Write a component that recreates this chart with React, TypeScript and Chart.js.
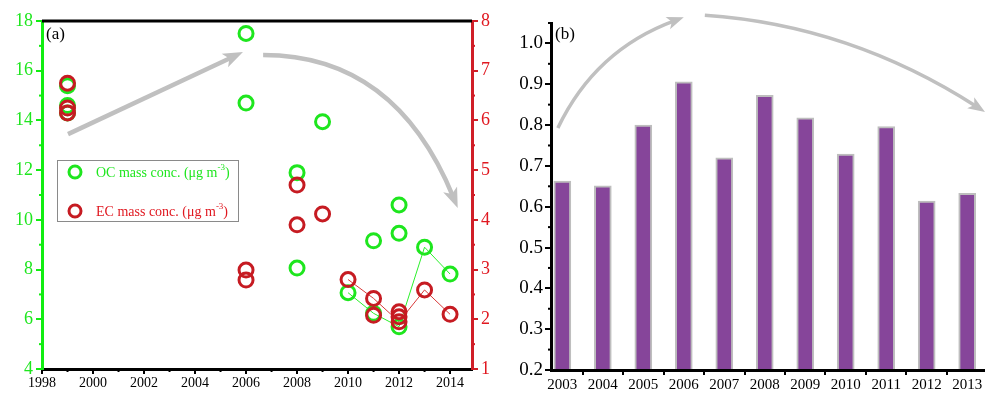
import React, { useEffect, useRef } from "react";
import { Chart, registerables } from "chart.js";

Chart.register(...registerables);

const SERIF = "'Liberation Serif', 'Times New Roman', serif";
Chart.defaults.font.family = SERIF;

// ---------- Panel (a) data ----------
const ocYears = [1999, 1999, 1999, 2006, 2006, 2008, 2008, 2009, 2010, 2011, 2011, 2012, 2012, 2012, 2013, 2014];
const ocValues = [15.4, 14.6, 14.3, 17.5, 14.7, 11.9, 8.06, 13.95, 7.07, 9.16, 6.24, 10.6, 9.46, 5.7, 8.9, 7.82];
const ecYears = [1999, 1999, 1999, 2006, 2006, 2008, 2008, 2009, 2010, 2011, 2011, 2012, 2012, 2012, 2013, 2014];
const ecValues = [6.75, 6.25, 6.15, 2.99, 2.79, 4.7, 3.9, 4.12, 2.8, 2.42, 2.08, 2.15, 2.05, 1.95, 2.59, 2.1];
const trendYears = [2010, 2011, 2012, 2013, 2014];
const ocTrend = [7.07, 6.24, 5.7, 8.9, 7.82];
const ecTrend = [2.8, 2.42, 1.95, 2.59, 2.1];
const aXTicks = [1998, 2000, 2002, 2004, 2006, 2008, 2010, 2012, 2014];
const aYTicks = [4, 6, 8, 10, 12, 14, 16, 18];
const aY2Ticks = [1, 2, 3, 4, 5, 6, 7, 8];
const ocLabel = "OC mass conc. (\u03bcg m";
const ecLabel = "EC mass conc. (\u03bcg m";

// ---------- Panel (b) data ----------
const barYears = [2003, 2004, 2005, 2006, 2007, 2008, 2009, 2010, 2011, 2012, 2013];
const barValues = [0.663, 0.651, 0.8, 0.906, 0.72, 0.873, 0.818, 0.729, 0.796, 0.614, 0.633];
const bYTicks = [0.2, 0.3, 0.4, 0.5, 0.6, 0.7, 0.8, 0.9, 1.0];

// arrows in data coordinates: [x, y]
const arrowsA = [
  { from: [1999.02, 13.45], ctrl: null, to: [2005.88, 16.75] },
  { from: [2006.67, 16.63], ctrl: [2011.84, 16.63], to: [2014.3, 10.48] },
];
const arrowsB = [
  { from: [2002.89, 0.793], ctrl: [2003.81, 0.984], to: [2006.0, 1.064] },
  { from: [2006.52, 1.069], ctrl: [2010.1, 1.045], to: [2013.44, 0.832] },
];

const GREEN = "#1EE61E";
const GREEN_AXIS = "#11EE11";
const RED = "#C61B22";
const RED_AXIS = "#D01E28";
const RED_LABEL = "#E01820";
const PURPLE = "#86459A";
const BAR_EDGE = "#BEBEBE";
const ARROW = "#C0C0C0";

const minorTicksPlugin = {
  id: "minorTicks",
  afterDraw(chart: any, _a: any, opts: any) {
    const ctx = chart.ctx;
    (opts.items || []).forEach((it: any) => {
      const s = chart.scales[it.axis];
      ctx.save();
      ctx.strokeStyle = it.color;
      ctx.lineWidth = 2;
      for (let v = it.start; v <= it.end + 1e-9; v += it.step) {
        const p = s.getPixelForValue(v);
        ctx.beginPath();
        if (it.side === "left") {
          ctx.moveTo(s.right, p);
          ctx.lineTo(s.right - it.len, p);
        } else if (it.side === "right") {
          ctx.moveTo(s.left, p);
          ctx.lineTo(s.left + it.len, p);
        } else {
          ctx.moveTo(p, s.top);
          ctx.lineTo(p, s.top + it.len);
        }
        ctx.stroke();
      }
      ctx.restore();
    });
  },
};

const arrowPlugin = {
  id: "arrows",
  afterDatasetsDraw(chart: any, _a: any, opts: any) {
    const ctx = chart.ctx;
    const xs = chart.scales.x;
    const ys = chart.scales[opts.yAxis || "y"];
    const px = (p: number[]) => [xs.getPixelForValue(p[0]), ys.getPixelForValue(p[1])];
    (opts.items || []).forEach((a: any) => {
      const p0 = px(a.from);
      const p2 = px(a.to);
      const p1 = a.ctrl ? px(a.ctrl) : [(p0[0] + p2[0]) / 2, (p0[1] + p2[1]) / 2];
      let dx = p2[0] - p1[0];
      let dy = p2[1] - p1[1];
      const d = Math.hypot(dx, dy) || 1;
      dx /= d;
      dy /= d;
      const hl = opts.headLen;
      const hw = opts.headWidth;
      const base = [p2[0] - dx * hl, p2[1] - dy * hl];
      ctx.save();
      ctx.strokeStyle = ARROW;
      ctx.fillStyle = ARROW;
      ctx.lineWidth = opts.lineWidth;
      ctx.lineCap = "butt";
      ctx.beginPath();
      ctx.moveTo(p0[0], p0[1]);
      const endLine = [p2[0] - dx * hl * 0.6, p2[1] - dy * hl * 0.6];
      ctx.quadraticCurveTo(p1[0], p1[1], endLine[0], endLine[1]);
      ctx.stroke();
      ctx.beginPath();
      ctx.moveTo(p2[0], p2[1]);
      ctx.lineTo(base[0] - dy * hw / 2, base[1] + dx * hw / 2);
      ctx.lineTo(base[0] + dx * hl * 0.25, base[1] + dy * hl * 0.25);
      ctx.lineTo(base[0] + dy * hw / 2, base[1] - dx * hw / 2);
      ctx.closePath();
      ctx.fill();
      ctx.restore();
    });
  },
};

const panelAPlugin = {
  id: "panelA",
  afterDraw(chart: any) {
    const ctx = chart.ctx;
    const ca = chart.chartArea;
    ctx.save();
    ctx.strokeStyle = "#000";
    ctx.lineWidth = 3;
    ctx.beginPath();
    ctx.moveTo(ca.left, ca.top);
    ctx.lineTo(ca.right, ca.top);
    ctx.stroke();
    ctx.fillStyle = "#000";
    ctx.font = `17px ${SERIF}`;
    ctx.textBaseline = "middle";
    ctx.fillText("(a)", ca.left + 4, 35);
    const bx = ca.left + 15;
    const by = 160;
    const bw = 181;
    const bh = 61;
    ctx.fillStyle = "#fff";
    ctx.fillRect(bx, by, bw, bh);
    ctx.strokeStyle = "#8A8A8A";
    ctx.lineWidth = 1;
    ctx.strokeRect(bx + 0.5, by + 0.5, bw, bh);
    const items = [
      { label: ocLabel, color: GREEN, text: GREEN, y: by + 12 },
      { label: ecLabel, color: RED, text: RED_LABEL, y: by + 51 },
    ];
    items.forEach((it) => {
      ctx.strokeStyle = it.color;
      ctx.lineWidth = 3;
      ctx.beginPath();
      ctx.arc(bx + 18, it.y, 6, 0, Math.PI * 2);
      ctx.stroke();
      ctx.fillStyle = it.text;
      ctx.textBaseline = "alphabetic";
      let x = bx + 39;
      const yb = it.y + 5;
      ctx.font = `14px ${SERIF}`;
      ctx.fillText(it.label, x, yb);
      x += ctx.measureText(it.label).width;
      ctx.font = `9px ${SERIF}`;
      ctx.fillText("-3", x, yb - 7);
      x += ctx.measureText("-3").width;
      ctx.font = `14px ${SERIF}`;
      ctx.fillText(")", x, yb);
    });
    ctx.restore();
  },
};

const panelBPlugin = {
  id: "panelB",
  afterDraw(chart: any) {
    const ctx = chart.ctx;
    const ca = chart.chartArea;
    ctx.save();
    ctx.fillStyle = "#000";
    ctx.font = `17px ${SERIF}`;
    ctx.textBaseline = "middle";
    ctx.fillText("(b)", ca.left + 4, 35);
    ctx.restore();
  },
};

const setTicks = (vals: number[]) => (s: any) => {
  s.ticks = vals.map((v) => ({ value: v }));
};

export default function App() {
  const refA = useRef<HTMLCanvasElement | null>(null);
  const refB = useRef<HTMLCanvasElement | null>(null);

  useEffect(() => {
    const chartA = new Chart(refA.current as HTMLCanvasElement, {
      type: "scatter",
      data: {
        datasets: [
          {
            label: "EC",
            data: ecYears.map((x, i) => ({ x, y: ecValues[i] })),
            yAxisID: "y2",
            pointRadius: 7,
            pointHoverRadius: 7,
            pointBorderWidth: 3,
            borderColor: RED,
            backgroundColor: "rgba(0,0,0,0)",
            showLine: false,
          },
          {
            label: "OC",
            data: ocYears.map((x, i) => ({ x, y: ocValues[i] })),
            yAxisID: "y",
            pointRadius: 7,
            pointHoverRadius: 7,
            pointBorderWidth: 3,
            borderColor: GREEN,
            backgroundColor: "rgba(0,0,0,0)",
            showLine: false,
          },
          {
            label: "EC trend",
            data: trendYears.map((x, i) => ({ x, y: ecTrend[i] })),
            yAxisID: "y2",
            pointRadius: 0,
            borderWidth: 1,
            borderColor: "#D83A3A",
            showLine: true,
          },
          {
            label: "OC trend",
            data: trendYears.map((x, i) => ({ x, y: ocTrend[i] })),
            yAxisID: "y",
            pointRadius: 0,
            borderWidth: 1,
            borderColor: "#2BF02B",
            showLine: true,
          },
        ],
      },
      options: {
        responsive: false,
        animation: false,
        devicePixelRatio: 1,
        layout: { padding: { top: 21, left: 0, right: 0, bottom: 0 } },
        plugins: {
          legend: { display: false },
          tooltip: { enabled: false },
          minorTicks: {
            items: [
              { axis: "x", side: "bottom", start: 1999, end: 2013, step: 2, len: 3, color: "#000" },
              { axis: "y", side: "left", start: 5, end: 17, step: 2, len: 3, color: GREEN_AXIS },
              { axis: "y2", side: "right", start: 1.5, end: 7.5, step: 1, len: 3, color: RED_AXIS },
            ],
          },
          arrows: { items: arrowsA, yAxis: "y", lineWidth: 4.5, headLen: 20, headWidth: 15 },
        } as any,
        scales: {
          x: {
            type: "linear",
            position: "bottom",
            min: 1998,
            max: 2014.86,
            afterBuildTicks: setTicks(aXTicks),
            afterFit: (s: any) => { s.height = 26; },
            ticks: { color: "#000", font: { family: SERIF, size: 14 }, padding: 1, maxRotation: 0, autoSkip: false, callback: (v: any) => String(v) },
            grid: { drawOnChartArea: false, drawTicks: true, tickLength: 5, color: "#000", lineWidth: 2 },
            border: { color: "#000", width: 3 },
          },
          y: {
            position: "left",
            min: 4,
            max: 18,
            afterBuildTicks: setTicks(aYTicks),
            afterFit: (s: any) => { s.width = 42; },
            ticks: { color: GREEN, font: { family: SERIF, size: 18 }, padding: 3, autoSkip: false, callback: (v: any) => String(v) },
            grid: { drawOnChartArea: false, drawTicks: true, tickLength: 6, color: GREEN_AXIS, lineWidth: 2 },
            border: { color: GREEN_AXIS, width: 3 },
          },
          y2: {
            position: "right",
            min: 1,
            max: 8,
            afterBuildTicks: setTicks(aY2Ticks),
            afterFit: (s: any) => { s.width = 33; },
            ticks: { color: RED_LABEL, font: { family: SERIF, size: 18 }, padding: 3, autoSkip: false, callback: (v: any) => String(v) },
            grid: { drawOnChartArea: false, drawTicks: true, tickLength: 6, color: RED_AXIS, lineWidth: 2 },
            border: { color: RED_AXIS, width: 3 },
          },
        },
      } as any,
      plugins: [minorTicksPlugin, arrowPlugin, panelAPlugin],
    } as any);

    const chartB = new Chart(refB.current as HTMLCanvasElement, {
      type: "bar",
      data: {
        datasets: [
          {
            label: "ratio",
            data: barYears.map((x, i) => ({ x, y: barValues[i] })),
            backgroundColor: PURPLE,
            borderColor: BAR_EDGE,
            borderWidth: 2,
            borderSkipped: "start",
            base: 0.2,
            barThickness: 17,
          },
        ],
      },
      options: {
        responsive: false,
        animation: false,
        devicePixelRatio: 1,
        layout: { padding: { top: 23, left: 0, right: 0, bottom: 0 } },
        plugins: {
          legend: { display: false },
          tooltip: { enabled: false },
          minorTicks: {
            items: [{ axis: "y", side: "left", start: 0.25, end: 1.05, step: 0.1, len: 3, color: "#000" }],
          },
          arrows: { items: arrowsB, yAxis: "y", lineWidth: 3.5, headLen: 17, headWidth: 13 },
        } as any,
        scales: {
          x: {
            type: "linear",
            position: "bottom",
            min: 2002.72,
            max: 2013.44,
            offset: false,
            afterBuildTicks: setTicks(barYears),
            afterFit: (s: any) => { s.height = 25; },
            ticks: { color: "#000", font: { family: SERIF, size: 15 }, padding: 1, maxRotation: 0, autoSkip: false, callback: (v: any) => String(v) },
            grid: { drawOnChartArea: false, drawTicks: true, tickLength: 5, color: "#000", lineWidth: 2 },
            border: { color: "#000", width: 3 },
          },
          y: {
            min: 0.2,
            max: 1.05,
            afterBuildTicks: setTicks(bYTicks),
            afterFit: (s: any) => { s.width = 56; },
            ticks: { color: "#000", font: { family: SERIF, size: 19 }, padding: 2, autoSkip: false, callback: (v: any) => Number(v).toFixed(1) },
            grid: { drawOnChartArea: false, drawTicks: true, tickLength: 6, color: "#000", lineWidth: 2 },
            border: { color: "#000", width: 3 },
          },
        },
      } as any,
      plugins: [minorTicksPlugin, arrowPlugin, panelBPlugin],
    } as any);

    return () => {
      chartA.destroy();
      chartB.destroy();
    };
  }, []);

  return (
    <div style={{ position: "fixed", left: 0, top: 0, width: 985, height: 395, background: "#fff", overflow: "hidden" }}>
      <canvas ref={refA} width={505} height={395} style={{ position: "absolute", left: 0, top: 0 }} />
      <canvas ref={refB} width={490} height={395} style={{ position: "absolute", left: 495, top: 0 }} />
    </div>
  );
}
